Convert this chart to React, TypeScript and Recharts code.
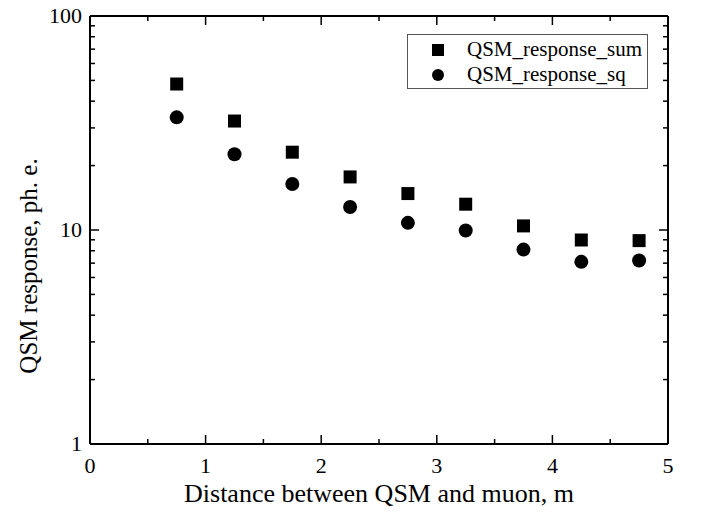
import { Label, Scatter, ScatterChart, XAxis, YAxis } from "recharts";

const distances = [0.75, 1.25, 1.75, 2.25, 2.75, 3.25, 3.75, 4.25, 4.75];
const responseSum = [48.1, 32.3, 23.1, 17.7, 14.8, 13.2, 10.45, 8.98, 8.92];
const responseSq = [33.6, 22.6, 16.4, 12.8, 10.8, 9.95, 8.1, 7.1, 7.2];

const xTicks = [0, 0.5, 1, 1.5, 2, 2.5, 3, 3.5, 4, 4.5, 5];
const yTicks = [1, 2, 3, 4, 5, 6, 7, 8, 9, 10, 20, 30, 40, 50, 60, 70, 80, 90, 100];
const yLabels = [1, 10, 100];

const sumData = distances.map((d, i) => ({ x: d, y: responseSum[i] }));
const sqData = distances.map((d, i) => ({ x: d, y: responseSq[i] }));

const FONT = "Liberation Serif, Times New Roman, DejaVu Serif, serif";
const M = 10; // tickMargin used to recover axis position
const MAJOR = 9;
const MINOR = 5;

const isMajorX = (v: number) => Number.isInteger(v);
const isMajorY = (v: number) => yLabels.includes(v);

function BottomTick(props: any) {
  const { x, y, payload } = props;
  const axisY = y - M;
  const major = isMajorX(payload.value);
  return (
    <g>
      <line x1={x} x2={x} y1={axisY} y2={axisY - (major ? MAJOR : MINOR)} stroke="#000" strokeWidth={1.5} />
      {major && (
        <text x={x} y={axisY + 29} textAnchor="middle" fontSize={22} fontFamily={FONT} fill="#000">
          {payload.value}
        </text>
      )}
    </g>
  );
}

function TopTick(props: any) {
  const { x, y, payload } = props;
  const axisY = y + M;
  const major = isMajorX(payload.value);
  return <line x1={x} x2={x} y1={axisY} y2={axisY + (major ? MAJOR : MINOR)} stroke="#000" strokeWidth={1.5} />;
}

function LeftTick(props: any) {
  const { x, y, payload } = props;
  const axisX = x + M;
  const major = isMajorY(payload.value);
  return (
    <g>
      <line x1={axisX} x2={axisX + (major ? MAJOR : MINOR)} y1={y} y2={y} stroke="#000" strokeWidth={1.5} />
      {major && (
        <text x={axisX - 8} y={y + 7} textAnchor="end" fontSize={22} fontFamily={FONT} fill="#000">
          {payload.value}
        </text>
      )}
    </g>
  );
}

function RightTick(props: any) {
  const { x, y, payload } = props;
  const axisX = x - M;
  const major = isMajorY(payload.value);
  return <line x1={axisX} x2={axisX - (major ? MAJOR : MINOR)} y1={y} y2={y} stroke="#000" strokeWidth={1.5} />;
}

const SquareDot = (props: any) => <rect x={props.cx - 6.5} y={props.cy - 6.5} width={13} height={13} fill="#000" />;
const RoundDot = (props: any) => <circle cx={props.cx} cy={props.cy} r={7} fill="#000" />;

function LegendBox() {
  const row = { display: "flex", alignItems: "center", height: 25 };
  const txt = { fontFamily: FONT, fontSize: 21, color: "#000", marginLeft: 23, lineHeight: "25px" };
  return (
    <div
      style={{
        position: "absolute",
        left: 407,
        top: 34,
        border: "1px solid #555",
        width: 241,
        height: 55,
        boxSizing: "border-box",
        padding: "2px 0 0 24px",
        background: "#fff",
      }}
    >
      <div style={row}>
        <svg width={12} height={12}><rect x={0} y={0} width={12} height={12} fill="#000" /></svg>
        <span style={txt}>QSM_response_sum</span>
      </div>
      <div style={row}>
        <svg width={12} height={12}><circle cx={6} cy={6} r={6} fill="#000" /></svg>
        <span style={txt}>QSM_response_sq</span>
      </div>
    </div>
  );
}

const axisLine = { stroke: "#000", strokeWidth: 2 };

export default function App() {
  return (
    <div style={{ position: "absolute", left: 0, top: 0, width: 702, height: 515, background: "#fff" }}>
      <ScatterChart width={702} height={515} margin={{ top: 15, right: 33, bottom: 0, left: 0 }}>
        <XAxis
          type="number"
          dataKey="x"
          domain={[0, 5]}
          ticks={xTicks}
          interval={0}
          allowDataOverflow
          height={71}
          tickSize={0}
          tickMargin={M}
          tickLine={false}
          axisLine={axisLine}
          tick={<BottomTick />}
        >
          <Label
            value="Distance between QSM and muon, m"
            position="insideBottom"
            offset={13}
            style={{ fontFamily: FONT, fontSize: 26, fill: "#000" }}
          />
        </XAxis>
        <XAxis
          xAxisId="top"
          orientation="top"
          type="number"
          dataKey="x"
          domain={[0, 5]}
          ticks={xTicks}
          interval={0}
          allowDataOverflow
          height={1}
          tickSize={0}
          tickMargin={M}
          tickLine={false}
          axisLine={axisLine}
          tick={<TopTick />}
        />
        <YAxis
          type="number"
          dataKey="y"
          scale="log"
          domain={[1, 100]}
          ticks={yTicks}
          interval={0}
          allowDataOverflow
          width={90}
          tickSize={0}
          tickMargin={M}
          tickLine={false}
          axisLine={axisLine}
          tick={<LeftTick />}
        >
          <Label
            content={() => (
              <text
                x={28}
                y={266}
                transform="rotate(-90 28 266)"
                textAnchor="middle"
                dominantBaseline="central"
                fontFamily={FONT}
                fontSize={25}
                fill="#000"
              >
                QSM response, ph. e.
              </text>
            )}
          />
        </YAxis>
        <YAxis
          yAxisId="right"
          orientation="right"
          type="number"
          dataKey="y"
          scale="log"
          domain={[1, 100]}
          ticks={yTicks}
          interval={0}
          allowDataOverflow
          width={1}
          tickSize={0}
          tickMargin={M}
          tickLine={false}
          axisLine={axisLine}
          tick={<RightTick />}
        />
        <Scatter name="QSM_response_sum" data={sumData} shape={SquareDot} isAnimationActive={false} />
        <Scatter
          name="QSM_response_sq"
          data={sqData}
          xAxisId="top"
          yAxisId="right"
          shape={RoundDot}
          isAnimationActive={false}
        />
      </ScatterChart>
      <LegendBox />
    </div>
  );
}
